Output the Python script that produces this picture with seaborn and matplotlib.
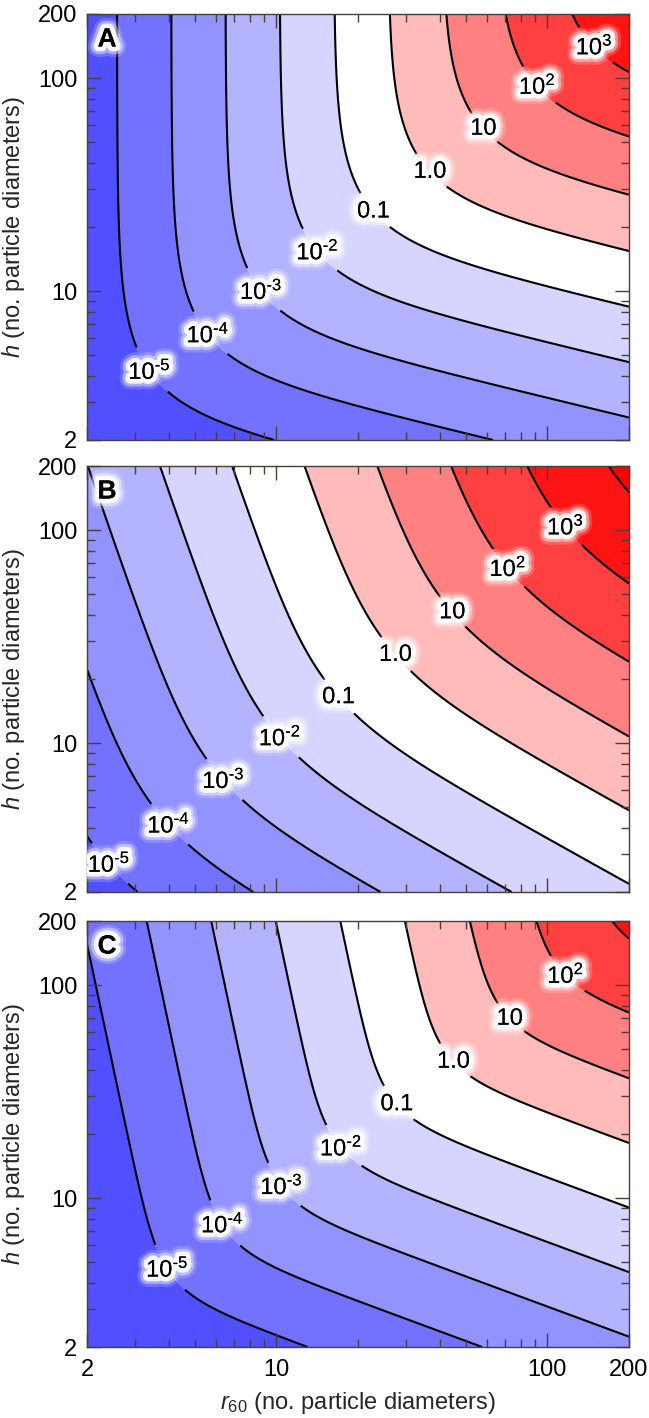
import numpy as np
import matplotlib
matplotlib.use("Agg")
import matplotlib.pyplot as plt
import matplotlib.patheffects as pe
from matplotlib.ticker import FixedLocator, NullFormatter
import seaborn as sns

# ---------------- data ----------------
panel_names = ["A", "B", "C"]
# log10(value) is a smooth minimum of two planes in (log10 r60, log10 h)
f_slope_r = [5.00, 3.76, 4.20]
f_slope_h = [0.00, 1.02, 0.70]
f_offset = [-7.06, -6.49, -7.80]
g_slope_r = [1.18, 2.05, 1.55]
g_slope_h = [3.85, 2.90, 3.30]
g_offset = [-7.28, -6.70, -7.72]
blend_sharpness = [0.45, 0.84, 1.10]

line_exponents = [-5, -4, -3, -2, -1, 0, 1, 2, 3, 4]
labelled_exponents = [[-5, -4, -3, -2, -1, 0, 1, 2, 3],
                      [-5, -4, -3, -2, -1, 0, 1, 2, 3],
                      [-5, -4, -3, -2, -1, 0, 1, 2]]
label_text = {-5: "$\\mathregular{10^{\u20105}}$", -4: "$\\mathregular{10^{\u20104}}$",
              -3: "$\\mathregular{10^{\u20103}}$", -2: "$\\mathregular{10^{\u20102}}$",
              -1: "0.1", 0: "1.0", 1: "10",
              2: r"$\mathregular{10^{2}}$", 3: r"$\mathregular{10^{3}}$",
              4: r"$\mathregular{10^{4}}$"}
band_colors = ["#5050ff", "#7272ff", "#9393ff", "#b3b3ff", "#d5d5ff", "#ffffff",
               "#ffbaba", "#ff8080", "#ff4040", "#ff1414", "#ff0000"]
tick_values = [2, 10, 100, 200]
tick_labels = ["2", "10", "100", "200"]
minor_values = [3, 4, 5, 6, 7, 8, 9, 20, 30, 40, 50, 60, 70, 80, 90]

# label anchor positions (r60, h) – layout only
label_positions = [
    [(3.47, 4.27), (5.69, 6.35), (8.9, 10.1), (14.7, 15.9), (23.1, 24.0),
     (37.5, 37.1), (58.9, 58.9), (93, 93), (151, 143)],
    [(2.49, 2.8), (4.05, 4.18), (6.35, 6.65), (10.3, 10.6), (17.2, 16.7),
     (27.9, 26.4), (44.5, 41.1), (71.6, 66.2), (118, 105)],
    [(4.3, 4.97), (6.86, 8.0), (10.6, 11.5), (18.2, 18.2), (28.1, 27.9),
     (45.6, 44.4), (71.6, 68.4), (114, 108)],
]

# ---------------- style ----------------
sns.set_theme(style="ticks")
plt.rcParams["font.family"] = ["Liberation Sans", "DejaVu Sans"]
plt.rcParams["mathtext.fontset"] = "custom"
plt.rcParams["mathtext.rm"] = "Liberation Sans"
plt.rcParams["mathtext.it"] = "Liberation Sans:italic"
plt.rcParams["mathtext.bf"] = "Liberation Sans:bold"
plt.rcParams["axes.unicode_minus"] = False
plt.rcParams["contour.negative_linestyle"] = "solid"
palette = sns.color_palette(band_colors)

frame_color = "#4a3f36"
glow = [pe.withStroke(linewidth=15, foreground="white", alpha=0.18),
        pe.withStroke(linewidth=11, foreground="white", alpha=0.4),
        pe.withStroke(linewidth=7, foreground="white", alpha=0.85),
        pe.withStroke(linewidth=4, foreground="white", alpha=1.0),
        pe.Normal()]

fig = plt.figure(figsize=(6.49, 14.18), dpi=100)
ax_left = 87 / 649
ax_w = 542 / 649
ax_h = 426 / 1418
tops = [14, 466, 921]

u = np.linspace(np.log10(2), np.log10(200), 400)
U, W = np.meshgrid(u, u)
R, H = 10 ** U, 10 ** W
ln10 = np.log(10)

for i, name in enumerate(panel_names):
    bottom = 1 - (tops[i] + 426) / 1418
    ax = fig.add_axes([ax_left, bottom, ax_w, ax_h])
    ax.set_axisbelow(False)
    ax.set_xscale("log")
    ax.set_yscale("log")

    F = f_slope_r[i] * U + f_slope_h[i] * W + f_offset[i]
    G = g_slope_r[i] * U + g_slope_h[i] * W + g_offset[i]
    k = blend_sharpness[i]
    Z = -np.logaddexp(-k * F * ln10, -k * G * ln10) / (k * ln10)

    fill_levels = [-30] + line_exponents + [30]
    ax.contourf(R, H, Z, levels=fill_levels, colors=palette, zorder=1)
    cs = ax.contour(R, H, Z, levels=line_exponents, colors="black",
                    linewidths=1.5, linestyles="solid", zorder=2)

    ax.set_xlim(2, 200)
    ax.set_ylim(2, 200)
    ax.set_xticks(tick_values, tick_labels)
    ax.set_yticks(tick_values, tick_labels)
    ax.xaxis.set_minor_locator(FixedLocator(minor_values))
    ax.yaxis.set_minor_locator(FixedLocator(minor_values))
    ax.xaxis.set_minor_formatter(NullFormatter())
    ax.yaxis.set_minor_formatter(NullFormatter())
    ax.tick_params(which="both", direction="in", top=True, right=True,
                   color=frame_color, labelsize=17, labelcolor="black")
    ax.tick_params(which="major", length=10, width=1.0, pad=7)
    ax.tick_params(which="minor", length=5.5, width=1.0)
    ax.tick_params(axis="x", which="major", pad=9)
    for sp in ax.spines.values():
        sp.set_color(frame_color)
        sp.set_linewidth(1.0)
        sp.set_zorder(4)
    if i < 2:
        ax.tick_params(labelbottom=False)
    else:
        ax.set_xlabel(r"$r_{60}$ (no. particle diameters)", fontsize=17, labelpad=6)
    ax.set_ylabel(r"$h$ (no. particle diameters)", fontsize=17, labelpad=8)

    ax.clabel(cs, levels=labelled_exponents[i], manual=label_positions[i],
              inline=True, inline_spacing=6, fmt=label_text,
              fontsize=17, colors="black")
    for t in cs.labelTexts:
        t.set_rotation(0)
        t.set_path_effects(glow)
        t.set_zorder(5)

    ax.text(0.037, 0.94, name, transform=ax.transAxes, ha="center", va="center",
            fontsize=19, fontweight="bold", color="black", path_effects=glow, zorder=6)

fig.savefig("out.png", dpi=100)
